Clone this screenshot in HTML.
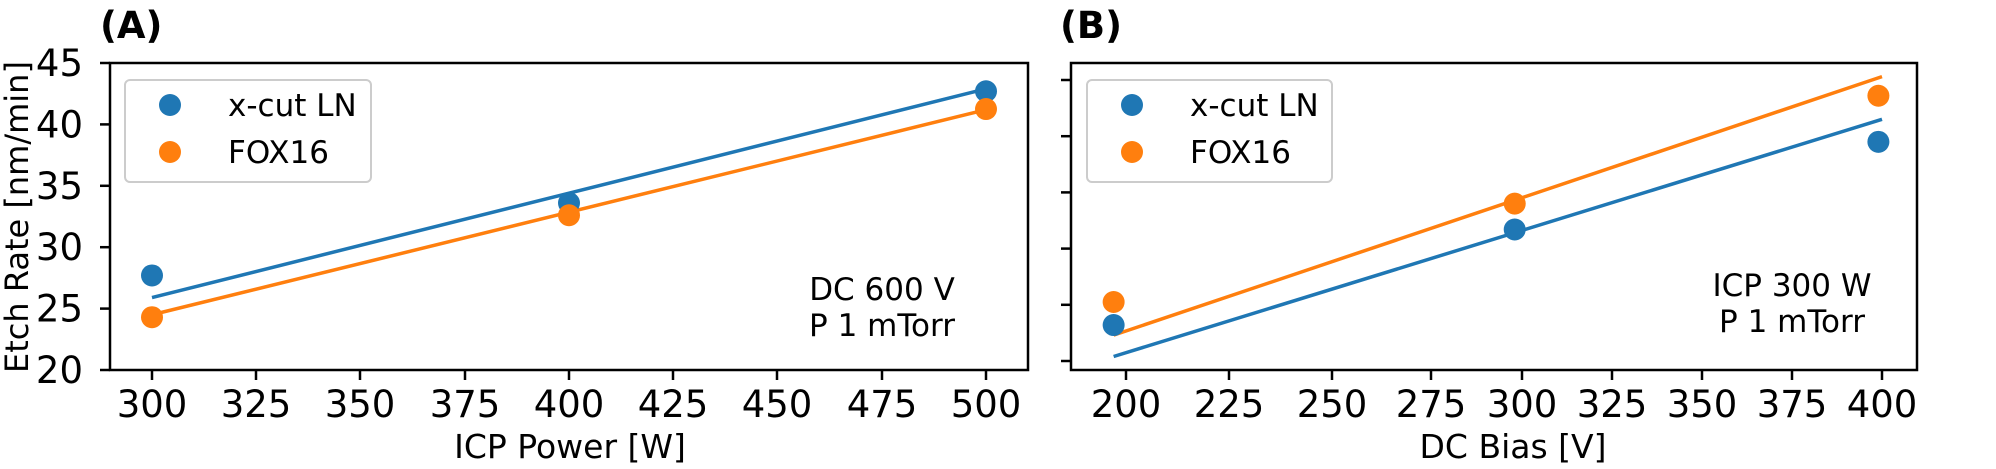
<!DOCTYPE html>
<html><head><meta charset="utf-8"><style>
html,body{margin:0;padding:0;background:#fff;}
svg{display:block;font-family:"DejaVu Sans","Liberation Sans",sans-serif;}
</style></head><body>
<svg id="fig" width="1996" height="469" viewBox="0 0 1996 469" xmlns="http://www.w3.org/2000/svg"></svg>
<script>
// Panel A data
const aTicksX = [300,325,350,375,400,425,450,475,500];
const aTicksY = [20,25,30,35,40,45];
const aPowerX = [300,400,500];
const aLNY = [27.7,33.6,42.7];
const aFOXY = [24.3,32.6,41.25];
const aFitX = [300,500];
const aFitLN = [25.9,42.9];
const aFitFOX = [24.5,41.2];
// Panel B data
const bTicksX = [200,225,250,275,300,325,350,375,400];
const bTicksY = [20,25,30,35,40,45];
const bBiasX = [197,298,399];
const bLNY = [23.2,31.7,39.5];
const bFOXY = [25.25,34.0,43.6];
const bFitX = [197,400];
const bFitLN = [20.4,41.5];
const bFitFOX = [22.3,45.3];

const NS="http://www.w3.org/2000/svg";
const svg=document.getElementById('fig');
function mk(tag,attrs,parent){const e=document.createElementNS(NS,tag);for(const k in attrs)e.setAttribute(k,attrs[k]);(parent||svg).appendChild(e);return e;}
function piece(vals,pix){return v=>{for(let i=0;i<vals.length-1;i++){if(v<=vals[i+1]||i===vals.length-2){const t=(v-vals[i])/(vals[i+1]-vals[i]);return pix[i]+t*(pix[i+1]-pix[i]);}}};}
const BLUE='#1f77b4',ORANGE='#ff7f0e';

function panel(o){
  const g=mk('g',{});
  
  
  const xs=piece(o.tx,o.txPix), ys=v=>o.y0pix+(v-o.y0)*(o.y1pix-o.y0pix)/(o.y1-o.y0);
  o.tx.forEach(v=>{const x=xs(v);
    const t=mk('line',{x1:x,x2:x,y1:o.bottom,y2:o.bottom+10,stroke:'#000','stroke-width':2.5},g);
    
    const l=mk('text',{x:x,y:417,'font-size':37,'text-anchor':'middle',fill:'#000'},g);l.textContent=v;
    });
  o.ty.forEach(v=>{const y=ys(v);
    const t=mk('line',{x1:o.left-10,x2:o.left,y1:y,y2:y,stroke:'#000','stroke-width':2.5},g);
    
    if(o.ylabels){const l=mk('text',{x:o.left-27,y:y+13,'font-size':37,'text-anchor':'end',fill:'#000'},g);l.textContent=v;
    }});
  [[o.fitLN,BLUE,'fit-line-x-cut-ln'],[o.fitFOX,ORANGE,'fit-line-fox16']].forEach(([arr,c,n])=>{
    const l=mk('line',{x1:xs(o.fitX[0]),y1:ys(arr[0]),x2:xs(o.fitX[1]),y2:ys(arr[1]),stroke:c,'stroke-width':3.5},g);
    });
  o.px.forEach((v,i)=>{
    const p=mk('circle',{cx:xs(v),cy:ys(o.ln[i]),r:11,fill:BLUE},g);
    });
  o.px.forEach((v,i)=>{
    const p=mk('circle',{cx:xs(v),cy:ys(o.fox[i]),r:11,fill:ORANGE},g);
    });
  const f=mk('rect',{x:o.left,y:63,width:o.right-o.left,height:o.bottom-63,fill:'none',stroke:'#000','stroke-width':2.5},g);
  
  const lg=mk('g',{},g);
  
  mk('rect',{x:o.legX,y:80,width:o.legW,height:102,rx:5,fill:'#fff','fill-opacity':0.8,stroke:'#ccc','stroke-width':2},lg);
  const m1=mk('circle',{cx:o.legX+45,cy:105,r:11,fill:BLUE},lg);
  
  const t1=mk('text',{x:o.legX+103,y:116,'font-size':31,fill:'#000'},lg);t1.textContent='x-cut LN';
  
  const m2=mk('circle',{cx:o.legX+45,cy:152,r:11,fill:ORANGE},lg);
  
  const t2=mk('text',{x:o.legX+103,y:163,'font-size':31,fill:'#000'},lg);t2.textContent='FOX16';
  
  const a1=mk('text',{x:o.annX,y:o.annY,'font-size':31,'text-anchor':'middle',fill:'#000'},g);a1.textContent=o.ann1;
  
  const a2=mk('text',{x:o.annX,y:o.annY+36,'font-size':31,'text-anchor':'middle',fill:'#000'},g);a2.textContent='P 1 mTorr';
  
  const xt=mk('text',{x:o.xtX,y:458,'font-size':33,'text-anchor':'middle',fill:'#000'},g);xt.textContent=o.xtitle;
  
  const pl=mk('text',{x:o.plX,y:38,'font-size':37,'font-weight':'bold',fill:'#000'},g);pl.textContent=o.plabel;
  
}

panel({name:'panel-a',left:110,right:1028,bottom:370,tx:aTicksX,txPix:[152,256,360,465,569,673,777,882,986],
  ty:aTicksY,y0:20,y1:45,y0pix:370,y1pix:63,ylabels:true,px:aPowerX,ln:aLNY,fox:aFOXY,fitX:aFitX,fitLN:aFitLN,fitFOX:aFitFOX,
  legX:125,legW:246,annX:882,annY:300,ann1:'DC 600 V',xtitle:'ICP Power [W]',xtX:570,plX:100,plabel:'(A)'});
panel({name:'panel-b',left:1071,right:1917,bottom:370,tx:bTicksX,txPix:[1126,1229,1332,1431,1522,1612,1702,1792,1882],
  ty:bTicksY,y0:20,y1:45,y0pix:361,y1pix:80,ylabels:false,px:bBiasX,ln:bLNY,fox:bFOXY,fitX:bFitX,fitLN:bFitLN,fitFOX:bFitFOX,
  legX:1087,legW:245,annX:1792,annY:296,ann1:'ICP 300 W',xtitle:'DC Bias [V]',xtX:1513,plX:1060,plabel:'(B)'});

const yt=mk('text',{x:0,y:0,'font-size':32,'text-anchor':'middle',fill:'#000',transform:'translate(28,217) rotate(-90)'});
yt.textContent='Etch Rate [nm/min]';


</script>
</body></html>
